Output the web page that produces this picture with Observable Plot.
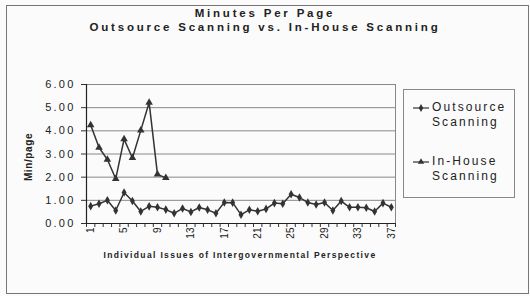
<!DOCTYPE html>
<html><head><meta charset="utf-8">
<script src="https://cdn.jsdelivr.net/npm/d3@7"></script>
<script src="https://cdn.jsdelivr.net/npm/@observablehq/plot@0.6"></script>
<style>
body{margin:0;background:#fff;font-family:"Liberation Sans",Arial,sans-serif;}
#wrap{position:relative;width:530px;height:296px;background:#fbfbfb;overflow:hidden}
#frame{position:absolute;left:6px;top:5px;width:521px;height:287px;border:1px solid #777;}
.title{position:absolute;left:0;width:530px;text-align:center;font-weight:bold;font-size:11.5px;letter-spacing:2.8px;line-height:12px;height:12px;color:#222;white-space:nowrap}
#ylab{position:absolute;left:28px;top:157px;transform:translate(-50%,-50%) rotate(-90deg);font-weight:bold;font-size:10px;letter-spacing:0.6px;white-space:nowrap;color:#222}
#xlab{position:absolute;left:240px;top:250px;transform:translateX(-50%);font-weight:bold;font-size:8.5px;letter-spacing:1.35px;white-space:nowrap;color:#222}
#legend{position:absolute;left:403px;top:89px;width:110px;height:107px;border:1px solid #888;}
#legend .item{position:absolute;left:28px;font-size:12px;letter-spacing:2.1px;line-height:15px;color:#222}
#plot{position:absolute;left:0;top:0}
#plot svg{overflow:visible}
.ytk text{letter-spacing:2.2px}
</style></head>
<body>
<div id="wrap">
  <div id="frame"></div>
  <div id="plot"></div>
  <div class="title" style="top:7px">Minutes Per Page</div>
  <div class="title" style="top:21px">Outsource Scanning vs. In-House Scanning</div>
  <div id="ylab">Min/page</div>
  <div id="xlab">Individual Issues of Intergovernmental Perspective</div>
  <div id="legend">
    <svg id="lsw" width="110" height="107" style="position:absolute;left:0;top:0"></svg>
    <div class="item" style="top:10px">Outsource<br>Scanning</div>
    <div class="item" style="top:64px">In-House<br>Scanning</div>
  </div>
</div>
<script>
const issues = [1,2,3,4,5,6,7,8,9,10,11,12,13,14,15,16,17,18,19,20,21,22,23,24,25,26,27,28,29,30,31,32,33,34,35,36,37];
const outsource = [0.75,0.85,1.00,0.56,1.34,0.97,0.52,0.74,0.70,0.60,0.44,0.65,0.50,0.69,0.59,0.44,0.91,0.90,0.38,0.59,0.53,0.63,0.88,0.85,1.26,1.12,0.91,0.82,0.91,0.56,0.97,0.70,0.70,0.68,0.52,0.88,0.70];
const inHouse = [4.25,3.28,2.76,1.93,3.64,2.83,4.02,5.22,2.12,1.97];
const xTickLabels = [1,5,9,13,17,21,25,29,33,37];
const yTicks = [0,1,2,3,4,5,6];
const seriesNames = ["Outsource Scanning","In-House Scanning"];

const outData = outsource.map((v,i)=>({x:issues[i], y:v}));
const inData = inHouse.map((v,i)=>({x:issues[i], y:v}));
const boundaries = issues.map(d=>d-0.5).concat([issues[issues.length-1]+0.5]);
const ink = "#333";

const chart = Plot.plot({
  width:530, height:296,
  marginLeft:86, marginRight:135, marginTop:84, marginBottom:73,
  style:{background:"transparent", fontFamily:"'Liberation Sans',Arial,sans-serif", color:"#222"},
  x:{type:"linear", domain:[0.5, issues[issues.length-1]+0.5]},
  y:{domain:[0,6]},
  marks:[
    Plot.gridY(yTicks.slice(1), {stroke:"#888", strokeOpacity:1, strokeWidth:1}),
    Plot.ruleX([issues[issues.length-1]+0.5], {stroke:"#888"}),
    Plot.axisY(yTicks, {tickSize:5, tickPadding:6, tickFormat:d=>d.toFixed(2), fontSize:11, label:null, stroke:"#333", className:"ytk"}),
    Plot.axisX(boundaries, {tickSize:4, tickFormat:()=>"", label:null, stroke:"#333"}),
    Plot.axisX(xTickLabels, {tickSize:0, tickPadding:4, tickRotate:-90, fontSize:10, label:null}),
    Plot.ruleX([0.5], {stroke:"#222", strokeWidth:1.2}),
    Plot.ruleY([0], {stroke:"#222", strokeWidth:1.2}),
    Plot.line(outData, {x:"x", y:"y", stroke:ink, strokeWidth:1.5}),
    Plot.dot(outData, {x:"x", y:"y", symbol:"diamond", fill:ink, r:2.6}),
    Plot.line(inData, {x:"x", y:"y", stroke:ink, strokeWidth:1.5}),
    Plot.dot(inData, {x:"x", y:"y", symbol:"triangle", fill:ink, r:2.8})
  ]
});
document.getElementById("plot").appendChild(chart);

// legend swatches
const lsw = d3.select("#lsw");
[{y:18, sym:d3.symbolDiamond},{y:72, sym:d3.symbolTriangle}].forEach((s,i)=>{
  lsw.append("line").attr("x1",9).attr("x2",25).attr("y1",s.y).attr("y2",s.y).attr("stroke",ink).attr("stroke-width",1.2);
  lsw.append("path").attr("d", d3.symbol(s.sym, 18)()).attr("transform",`translate(17,${s.y})`).attr("fill",ink).append("title").text(seriesNames[i]);
});
</script>
</body></html>
